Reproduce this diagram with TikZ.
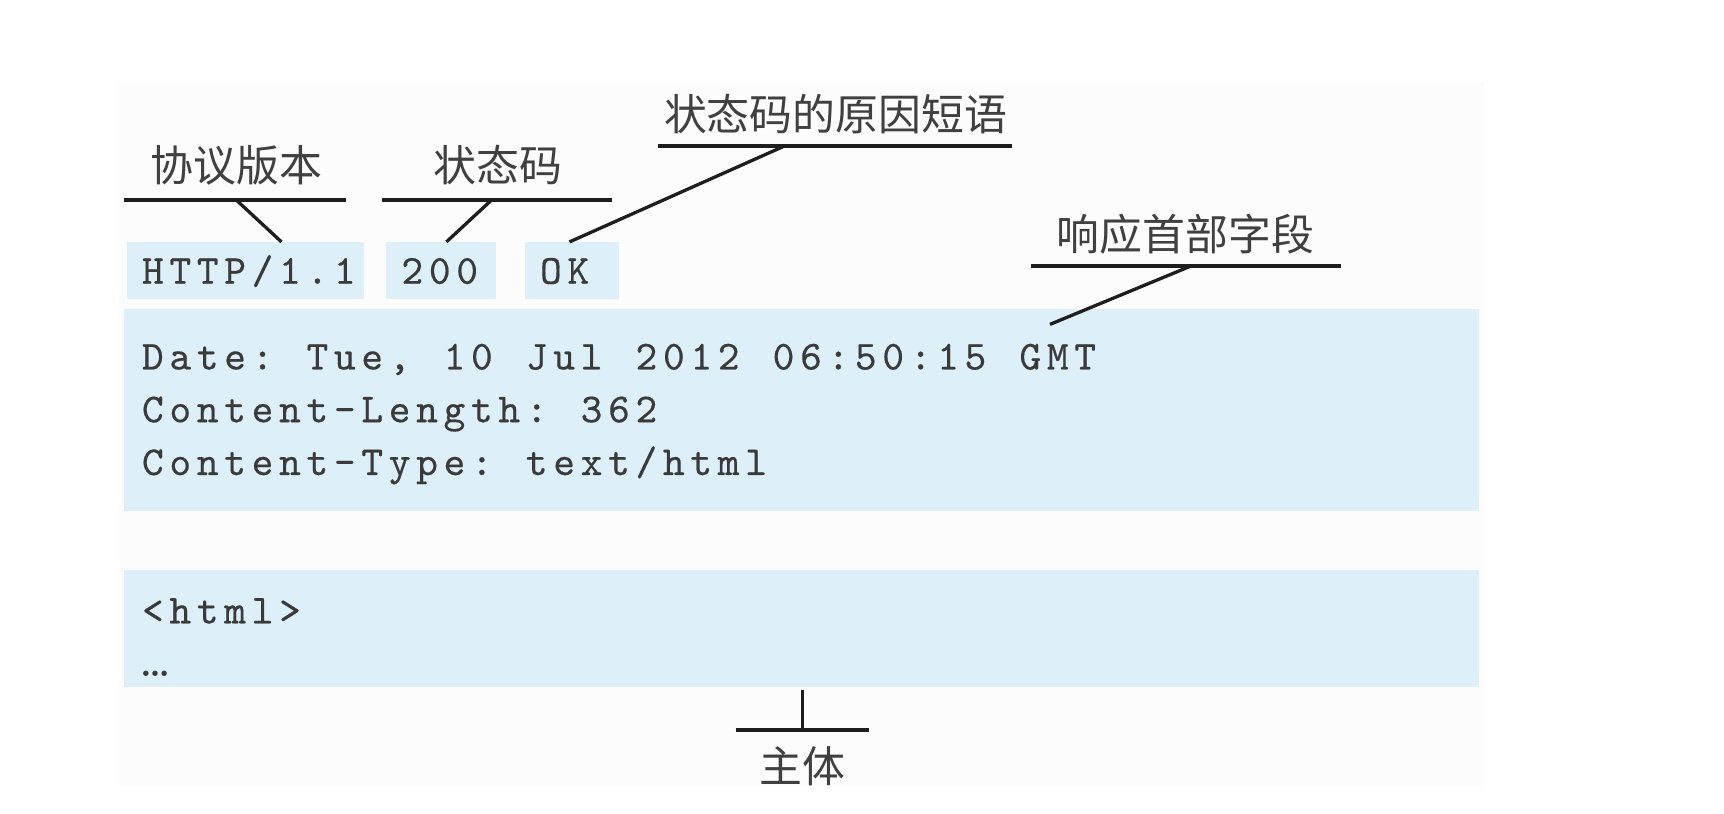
\documentclass[tikz,border=0pt]{standalone}
\usepackage{fontspec}
\newfontfamily\cjk{Noto Sans CJK SC}
\newfontfamily\codefamily{lmmono10-regular.otf}[LetterSpace=14,FakeBold=0.4]
\definecolor{boxblue}{RGB}{221,239,248}
\definecolor{bgpale}{RGB}{252,252,252}
\definecolor{codegray}{RGB}{58,58,58}
\definecolor{lblgray}{RGB}{64,64,64}
\definecolor{linegray}{RGB}{30,30,30}
\newcommand{\codefont}{\codefamily\fontsize{37.5}{44}\selectfont}
\newcommand{\SP}{\hspace*{30.2pt}}
\newcommand{\lblfont}{\cjk\fontsize{39}{46}\selectfont}
\begin{document}
\begin{tikzpicture}[x=1pt,y=-1pt,
  box/.style={fill=boxblue, draw=none, inner sep=0pt, anchor=north west},
  code/.style={text=codegray, font=\codefont, anchor=base west, inner sep=0pt},
  lbl/.style={text=lblgray, font=\lblfont, inner sep=0pt, anchor=base},
  uline/.style={line width=3.5pt, draw=linegray},
  conn/.style={line width=3pt, draw=linegray}]
\useasboundingbox (0,0) rectangle (1568,740);
\fill[white] (0,0) rectangle (1568,740);
\fill[bgpale] (108,75) rectangle (1350,715);

% boxes
\node[box, minimum width=216pt, minimum height=52pt] (httpbox) at (115,220) {};
\node[box, minimum width=100pt, minimum height=52pt] (codebox) at (351,220) {};
\node[box, minimum width=86pt, minimum height=52pt] (okbox) at (477,220) {};
\node[box, minimum width=1232pt, minimum height=184pt] (hdrbox) at (113,281) {};
\node[box, minimum width=1232pt, minimum height=107pt] (bodybox) at (113,518) {};

% code text
\node[code] (http) at (129,258) {HTTP/1.1};
\node[code] (c200) at (365,258) {200};
\node[code] (ok) at (491,258) {OK};
\node[code] (date) at (129,336) {Date:\SP Tue,\SP 10\SP Jul\SP 2012\SP 06:50:15\SP GMT};
\node[code] (clen) at (129,384) {Content-Length:\SP 362};
\node[code] (ctype) at (129,432) {Content-Type:\SP text/html};
\node[code] (html) at (129,567) {<html>};
\node[text=codegray, anchor=base west, inner sep=0pt, font=\bfseries\fontsize{34}{40}\selectfont] (dots) at (128,615) {\ldots};

% labels
\node[lbl] (lver) at (215,165) {协议版本};
\node[lbl] (lcode) at (453,165) {状态码};
\node[lbl] (lreason) at (760,119) {状态码的原因短语};
\node[lbl] (lhdr) at (1078,228) {响应首部字段};
\node[lbl] (lbody) at (730,712) {主体};

% underlines
\draw[uline] (113,182) -- (315,182);
\draw[uline] (347,182) -- (557,182);
\draw[uline] (598,133) -- (920,133);
\draw[uline] (938,242) -- (1220,242);
\draw[uline] (669,664) -- (790,664);

% connector end points
\coordinate (verTop) at (215,182);
\coordinate (verBot) at (256,220);
\coordinate (codeTop) at (447,182);
\coordinate (codeBot) at (406,220);
\coordinate (reasonTop) at (713,133);
\coordinate (reasonBot) at (518,220);
\coordinate (hdrTop) at (1083,242);
\coordinate (hdrBot) at (955,295);
\coordinate (bodyTop) at (730,628);
\coordinate (bodyBot) at (730,664);

% connectors
\draw[conn] (verTop) -- (verBot);
\draw[conn] (codeTop) -- (codeBot);
\draw[conn] (reasonTop) -- (reasonBot);
\draw[conn] (hdrTop) -- (hdrBot);
\draw[conn] (bodyTop) -- (bodyBot);
\end{tikzpicture}
\end{document}
